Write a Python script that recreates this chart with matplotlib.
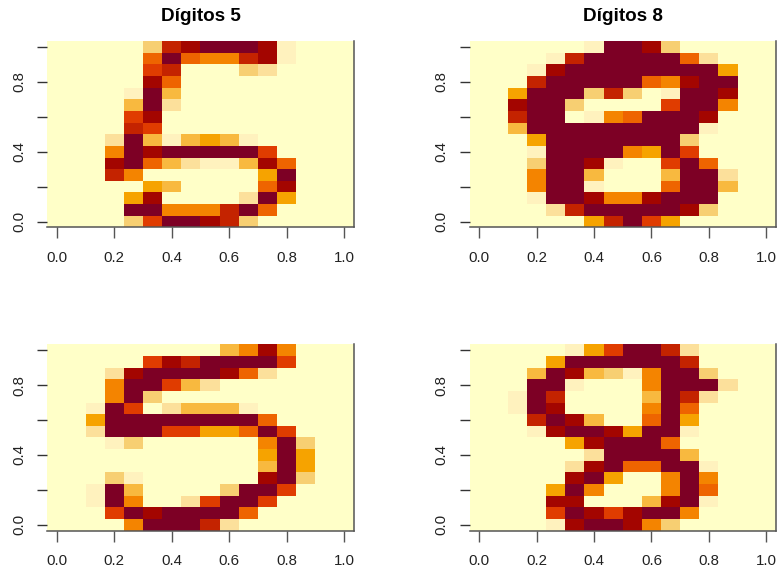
import numpy as np
import matplotlib
matplotlib.use("Agg")
import matplotlib.pyplot as plt
from matplotlib.colors import ListedColormap

plt.rcParams['font.family'] = ['Liberation Sans', 'DejaVu Sans']

# hex digit = colour level, first row is the top of the image
digito5_a = [
    "0000039ABBBA1000",
    "000007B7669A1000",
    "0000089000320000",
    "00000A7000000000",
    "00001B4000000000",
    "00004B2000000000",
    "00008A0000000000",
    "0000980000000000",
    "0002B41454100000",
    "0006BABBBBB80000",
    "000AB742114A7000",
    "000960000005B000",
    "000005400007A000",
    "00005A00002B5000",
    "0000BB6669B70000",
    "000038BBA9300000",
]
digito8_a = [
    "0000001BBA300000",
    "000019BBBBB72000",
    "0001ABBBBBBBB500",
    "0009BBBBB76ABB00",
    "005BBB39301BBA00",
    "00ABB300008BB600",
    "009BB0167BBBA000",
    "004BBBBBBBBB1000",
    "0005BBBBBBB30000",
    "0001BBBB65B80000",
    "0003BBA1008B7000",
    "0006BB40004BB200",
    "0006BB10007BB400",
    "0001BBA66ABBB000",
    "000029BBBBBA3000",
    "00000059B8500000",
]
digito5_b = [
    "00000000046A6000",
    "000008A9BBBB8000",
    "0002ABBBBA720000",
    "0006BB8420000000",
    "0006B30000000000",
    "001B802444100000",
    "005BBBBBBBB70000",
    "002BBB88557B8000",
    "000130000006B300",
    "000000000005B500",
    "000000000004B500",
    "00031000000AB300",
    "001B400003BB8000",
    "001B60028BB80000",
    "0008BABBBB700000",
    "00006BBB92000000",
]
digito8_b = [
    "00000158BB920000",
    "00005BBBBBB90000",
    "0004BA4316BB3000",
    "000BB10006BBB200",
    "001B900004B92000",
    "001BA00006B70000",
    "0009BA4007B50000",
    "0001ABBA5BB10000",
    "000005ABBB700000",
    "0000002BBBB40000",
    "000002AB77BB1000",
    "00000AB5006B6000",
    "00005B60006B7000",
    "0000AA0004AB1000",
    "00008BA8ABB60000",
    "00001ABBA6300000",
]

niveles = ["#FFFFC8", "#FFF2BE", "#FCE09B", "#F7CF72", "#F8B93F", "#F6A300",
           "#F48400", "#EE6400", "#E03C00", "#C42300", "#A30500", "#7D0025"]

titulos = ["Dígitos 5", "Dígitos 8"]
ticks = [0.0, 0.2, 0.4, 0.6, 0.8, 1.0]
xtick_labels = ["0.0", "0.2", "0.4", "0.6", "0.8", "1.0"]
# R drops the y labels that would overlap
ytick_labels = ["0.0", "", "0.4", "", "0.8", ""]

W, H = 778, 572
GRIS = "#555555"


def panel(filas, left, top, titulo=None):
    # position given in pixels of the final image
    ax = fig.add_axes([left / W, 1 - (top + 186.2) / H, 306.3 / W, 186.2 / H])
    Z = np.array([[int(c, 16) for c in f] for f in filas])[::-1]
    bordes = np.linspace(-1 / 30, 1 + 1 / 30, 17)
    ax.pcolormesh(bordes, bordes, Z, cmap=ListedColormap(niveles), vmin=-0.5, vmax=11.5)
    ax.set_xlim(bordes[0], bordes[-1])
    ax.set_ylim(bordes[0], bordes[-1])

    ax.spines['top'].set_visible(False)
    ax.spines['left'].set_visible(False)
    for s in ['right', 'bottom']:
        ax.spines[s].set_color(GRIS)
        ax.spines[s].set_linewidth(1.1)

    ax.set_xticks(ticks)
    ax.set_xticklabels(xtick_labels)
    ax.set_yticks(ticks)
    ax.set_yticklabels(ytick_labels, rotation=90, va='center')
    ax.tick_params(axis='x', length=7.6, width=1.0, color=GRIS, pad=9.5,
                   labelsize=10.8, labelcolor="#222222")
    ax.tick_params(axis='y', length=7, width=1.0, color="#333333", pad=8,
                   labelsize=10.8, labelcolor="#222222")
    if titulo:
        ax.set_title(titulo, fontsize=13.6, fontweight='bold', pad=14.5)


fig = plt.figure(figsize=(W / 100, H / 100), dpi=100)
panel(digito5_a, 47.3, 41.2, titulos[0])
panel(digito8_a, 469.6, 41.2, titulos[1])
panel(digito5_b, 47.3, 344.4)
panel(digito8_b, 469.6, 344.4)
fig.savefig("out.png", dpi=100)
